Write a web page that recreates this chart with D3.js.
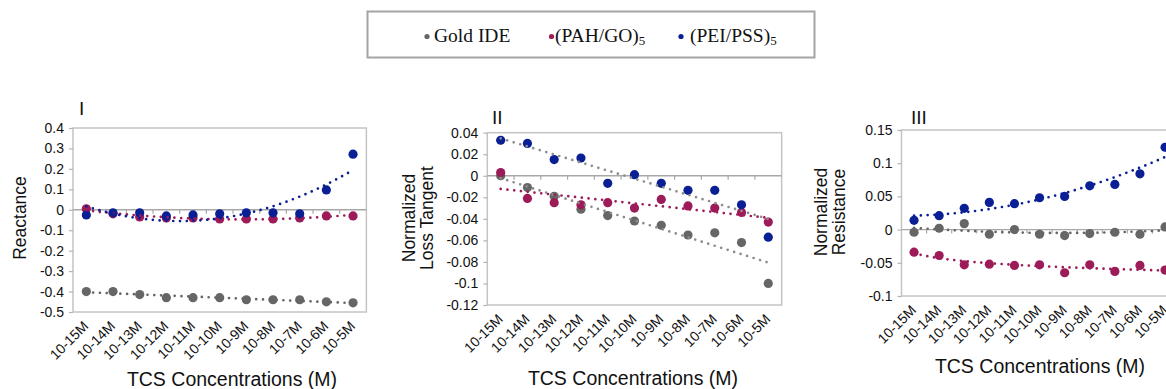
<!DOCTYPE html>
<html>
<head>
<meta charset="utf-8">
<script src="https://cdn.jsdelivr.net/npm/d3@7"></script>
<style>
  html, body { margin: 0; padding: 0; background: #ffffff; }
  svg { display: block; }
  text { font-family: "Liberation Sans", Arial, Helvetica, sans-serif; }
</style>
</head>
<body>
<svg id="chart" width="1166" height="389"></svg>
<script>
// ---- data -------------------------------------------------------------
const categories = ["10-15M", "10-14M", "10-13M", "10-12M", "10-11M", "10-10M",
                    "10-9M", "10-8M", "10-7M", "10-6M", "10-5M"];

const seriesNames = ["Gold IDE", "(PAH/GO)", "(PEI/PSS)"];
const seriesSub = ["", "5", "5"];

// Panel I – Reactance
const reactanceGold = [-0.40, -0.40, -0.415, -0.43, -0.43, -0.43, -0.44, -0.44, -0.44, -0.45, -0.455];
const reactancePah  = [0.005, -0.02, -0.035, -0.04, -0.04, -0.045, -0.045, -0.045, -0.04, -0.03, -0.03];
const reactancePei  = [-0.025, -0.015, -0.015, -0.03, -0.025, -0.02, -0.015, -0.015, -0.02, 0.097, 0.272];
const reactanceTicks = [0.4, 0.3, 0.2, 0.1, 0, -0.1, -0.2, -0.3, -0.4, -0.5];

// Panel II – Normalized loss tangent
const lossGold = [0.0, -0.011, -0.019, -0.031, -0.037, -0.042, -0.046, -0.055, -0.053, -0.062, -0.100];
const lossPah  = [0.003, -0.021, -0.025, -0.027, -0.025, -0.030, -0.022, -0.028, -0.030, -0.034, -0.043];
const lossPei  = [0.033, 0.030, 0.015, 0.0165, -0.007, 0.001, -0.007, -0.0135, -0.0135, -0.027, -0.057];
const lossTicks = [0.04, 0.02, 0, -0.02, -0.04, -0.06, -0.08, -0.1, -0.12];

// Panel III – Normalized resistance
const resistGold = [-0.004, 0.002, 0.009, -0.007, 0.0, -0.007, -0.009, -0.006, -0.004, -0.007, 0.004];
const resistPah  = [-0.034, -0.039, -0.053, -0.052, -0.054, -0.053, -0.065, -0.053, -0.063, -0.054, -0.061];
const resistPei  = [0.014, 0.021, 0.032, 0.041, 0.039, 0.048, 0.050, 0.066, 0.068, 0.084, 0.124];
const resistTicks = [0.15, 0.1, 0.05, 0, -0.05, -0.1];

// ---- styling ----------------------------------------------------------
const COL = { gold: "#666666", pah: "#9d1b58", pei: "#0b1f95", trendGray: "#8c8c8c" };
const seriesColors = [COL.gold, COL.pah, COL.pei];

// ---- trendline fits ---------------------------------------------------
function polyfit(xs, ys, deg) {
  const n = deg + 1;
  const A = Array.from({ length: n }, () => new Array(n + 1).fill(0));
  xs.forEach((x, k) => {
    for (let i = 0; i < n; i++) {
      for (let j = 0; j < n; j++) A[i][j] += Math.pow(x, i + j);
      A[i][n] += ys[k] * Math.pow(x, i);
    }
  });
  for (let c = 0; c < n; c++) {
    let p = c;
    for (let r = c + 1; r < n; r++) if (Math.abs(A[r][c]) > Math.abs(A[p][c])) p = r;
    [A[c], A[p]] = [A[p], A[c]];
    for (let r = 0; r < n; r++) {
      if (r === c) continue;
      const f = A[r][c] / A[c][c];
      for (let k = c; k <= n; k++) A[r][k] -= f * A[c][k];
    }
  }
  const coef = A.map((row, i) => row[n] / row[i]);
  return x => coef.reduce((s, a, i) => s + a * Math.pow(x, i), 0);
}
function logfit(xs, ys) {
  const f = polyfit(xs.map(Math.log), ys, 1);
  return x => f(Math.log(x));
}
function makeTrend(values, kind) {
  const xs = values.map((_, i) => i + 1);
  if (kind === "linear") return polyfit(xs, values, 1);
  if (kind === "poly2") return polyfit(xs, values, 2);
  if (kind === "log") return logfit(xs, values);
}

// ---- panels -----------------------------------------------------------
const panels = [
  { title: "I", tx: 79, ty: 115,
    yTitle: ["Reactance"], yTitleX: 26, yTitleY: 218,
    left: 73, band: 26.67, top: 128, bottom: 312,
    domain: [-0.5, 0.4], ticks: reactanceTicks,
    series: [reactanceGold, reactancePah, reactancePei],
    trends: ["linear", "poly2", "poly2"],
    trendColors: [COL.gold, COL.pah, COL.pei],
    xTitleX: 232, xTitleY: 386 },
  { title: "II", tx: 492, ty: 124,
    yTitle: ["Normalized", "Loss Tangent"], yTitleX: 433, yTitleY: 218,
    left: 487.3, band: 26.76, top: 132.7, bottom: 305,
    domain: [-0.12, 0.04], ticks: lossTicks,
    series: [lossGold, lossPah, lossPei],
    trends: ["linear", "linear", "linear"],
    trendColors: [COL.trendGray, COL.pah, COL.trendGray],
    xTitleX: 633, xTitleY: 385 },
  { title: "III", tx: 911, ty: 124,
    yTitle: ["Normalized", "Resistance"], yTitleX: 845, yTitleY: 212,
    left: 901.5, band: 25.1, top: 130, bottom: 296,
    domain: [-0.1, 0.15], ticks: resistTicks,
    series: [resistGold, resistPah, resistPei],
    trends: ["poly2", "log", "poly2"],
    trendColors: [COL.gold, COL.pah, COL.pei],
    xTitleX: 1040, xTitleY: 373 }
];

const svg = d3.select("#chart");
svg.append("rect").attr("width", 1166).attr("height", 389).attr("fill", "#ffffff");

const fmt = v => String(+v.toFixed(2));

panels.forEach(p => {
  const g = svg.append("g");
  const right = p.left + p.band * categories.length;

  const x = d3.scaleBand().domain(categories).range([p.left, right]).padding(0);
  const cx = c => x(c) + x.bandwidth() / 2;
  const xi = d3.scaleLinear().domain([1, categories.length])
    .range([cx(categories[0]), cx(categories[categories.length - 1])]);
  const y = d3.scaleLinear().domain(p.domain).range([p.bottom, p.top]);

  // plot frame
  g.append("rect")
    .attr("x", p.left).attr("y", p.top)
    .attr("width", right - p.left).attr("height", p.bottom - p.top)
    .attr("fill", "none").attr("stroke", "#c4c4c4").attr("stroke-width", 1.5);

  // value axis
  const yAxis = g.append("g")
    .attr("transform", `translate(${p.left},0)`)
    .call(d3.axisLeft(y).tickValues(p.ticks).tickSize(4).tickSizeOuter(0).tickPadding(5).tickFormat(fmt));
  yAxis.select(".domain").remove();
  yAxis.selectAll(".tick line").attr("stroke", "#b4b4b4").attr("stroke-width", 1.2);
  yAxis.selectAll(".tick text")
    .attr("fill", "#111").style("font-size", "14px")
    .style("font-family", "'Liberation Sans', Arial, sans-serif");

  // zero line with category-boundary ticks
  const y0 = y(0);
  g.append("line")
    .attr("x1", p.left).attr("x2", right).attr("y1", y0).attr("y2", y0)
    .attr("stroke", "#a8a8a8").attr("stroke-width", 1.4);
  g.selectAll(".ctick").data(categories.slice(1)).enter().append("line")
    .attr("x1", d => x(d)).attr("x2", d => x(d))
    .attr("y1", y0).attr("y2", y0 + 4)
    .attr("stroke", "#a8a8a8").attr("stroke-width", 1.2);

  // category labels
  g.selectAll(".xlab").data(categories).enter().append("text")
    .attr("transform", d => `translate(${cx(d) + 3},${p.bottom + 15}) rotate(-45)`)
    .attr("text-anchor", "end")
    .attr("fill", "#111")
    .style("font-size", "14px")
    .text(d => d);

  // markers
  p.series.forEach((vals, si) => {
    g.append("g").selectAll("circle").data(vals).enter().append("circle")
      .attr("cx", (d, i) => cx(categories[i]))
      .attr("cy", d => y(d))
      .attr("r", 4.6)
      .attr("fill", seriesColors[si]);
  });

  // dotted trendlines
  const line = d3.line().x(d => xi(d[0])).y(d => y(d[1])).curve(d3.curveLinear);
  p.series.forEach((vals, si) => {
    const f = makeTrend(vals, p.trends[si]);
    const pts = d3.range(0, 201).map(k => {
      const t = 1 + (categories.length - 1) * k / 200;
      return [t, f(t)];
    });
    g.append("path")
      .attr("d", line(pts))
      .attr("fill", "none")
      .attr("stroke", p.trendColors[si])
      .attr("stroke-width", 2.7)
      .attr("stroke-linecap", "round")
      .attr("stroke-dasharray", "0,6.8");
  });

  // panel title
  g.append("text")
    .attr("x", p.tx).attr("y", p.ty)
    .attr("fill", "#111").style("font-size", "19px")
    .text(p.title);

  // value axis title
  const lh = 18;
  const yt = g.append("text")
    .attr("transform", `translate(${p.yTitleX},${p.yTitleY}) rotate(-90)`)
    .attr("text-anchor", "middle")
    .attr("fill", "#111").style("font-size", "17.5px");
  p.yTitle.forEach((line, li) => {
    yt.append("tspan")
      .attr("x", 0)
      .attr("y", (li - (p.yTitle.length - 1)) * lh)
      .text(line);
  });

  // category axis title
  g.append("text")
    .attr("x", p.xTitleX).attr("y", p.xTitleY)
    .attr("text-anchor", "middle")
    .attr("fill", "#111").style("font-size", "19.5px")
    .text("TCS Concentrations (M)");
});

// ---- legend -----------------------------------------------------------
const legend = svg.append("g");
legend.append("rect")
  .attr("x", 367.5).attr("y", 11.5).attr("width", 447).attr("height", 46)
  .attr("fill", "#ffffff").attr("stroke", "#a4a4a4").attr("stroke-width", 2);

const legendX = [434, 555, 690];
const legendDotX = [427, 551.5, 681];
seriesNames.forEach((name, i) => {
  legend.append("circle")
    .attr("cx", legendDotX[i]).attr("cy", 36.5).attr("r", 2.6)
    .attr("fill", seriesColors[i]);
  const t = legend.append("text")
    .attr("x", legendX[i]).attr("y", 42)
    .attr("fill", "#111")
    .style("font-family", "'Liberation Serif', 'Times New Roman', serif")
    .style("font-size", "19.5px")
    .text(name);
  if (seriesSub[i]) {
    t.append("tspan").attr("dy", 3).style("font-size", "13px").text(seriesSub[i]);
  }
});
</script>
</body>
</html>
